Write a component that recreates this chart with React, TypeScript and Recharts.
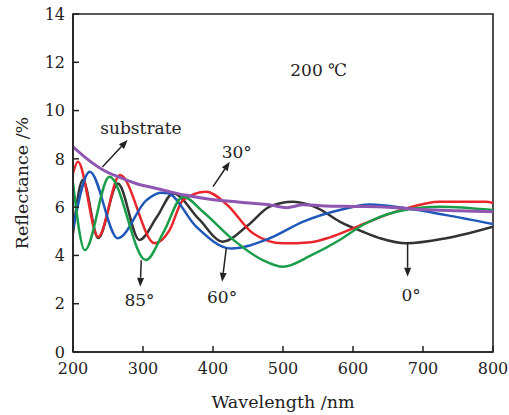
import React from "react";
import {
  LineChart,
  Line,
  XAxis,
  YAxis,
  ReferenceArea,
  ReferenceLine,
  ReferenceDot,
} from "recharts";

// wavelength (nm) / reflectance (%), one pair of arrays per curve
const substrateWl = [200, 220, 243, 265, 290, 315, 338, 360, 386, 420, 457, 480, 505, 529, 560, 600, 650, 700, 750, 800];
const substrateR = [8.5, 8.0, 7.54, 7.25, 6.98, 6.8, 6.64, 6.5, 6.37, 6.25, 6.16, 6.1, 5.98, 6.1, 6.05, 6.03, 6.0, 5.9, 5.85, 5.81];

const deg0Wl = [200, 214, 236, 264, 295, 320, 343, 380, 414, 450, 481, 514, 550, 581, 614, 640, 676, 733, 800];
const deg0R = [4.9, 7.12, 4.72, 6.98, 4.64, 5.6, 6.57, 5.5, 4.57, 5.25, 6.02, 6.22, 5.95, 5.4, 4.98, 4.7, 4.5, 4.71, 5.19];

const deg30Wl = [200, 207, 236, 267, 317, 338, 357, 390, 420, 457, 500, 540, 567, 600, 640, 676, 724, 790, 800];
const deg30R = [7.4, 7.88, 4.77, 7.33, 4.5, 5.05, 6.29, 6.64, 6.1, 4.92, 4.5, 4.55, 4.75, 5.12, 5.6, 5.95, 6.22, 6.22, 6.17];

const deg60Wl = [200, 224, 264, 305, 325, 336, 376, 426, 481, 529, 581, 624, 676, 733, 800];
const deg60R = [5.1, 7.47, 4.71, 6.29, 6.6, 6.57, 5.19, 4.29, 4.71, 5.4, 5.88, 6.11, 5.95, 5.67, 5.3];

const deg85Wl = [200, 217, 252, 304, 330, 357, 386, 424, 471, 500, 540, 581, 614, 662, 724, 800];
const deg85R = [7.0, 4.22, 7.26, 3.81, 5.0, 6.43, 5.8, 4.77, 3.81, 3.53, 4.0, 4.64, 5.26, 5.81, 6.02, 5.88];

const xTicks = [200, 300, 400, 500, 600, 700, 800];
const yTicks = [0, 2, 4, 6, 8, 10, 12, 14];

const toPoints = (wl: number[], r: number[]) => wl.map((w, i) => ({ wl: w, r: r[i] }));

const FONT = "DejaVu Serif";
const INK = "#222";

const series = [
  { name: "0°", data: toPoints(deg0Wl, deg0R), color: "#333333", width: 2.5 },
  { name: "30°", data: toPoints(deg30Wl, deg30R), color: "#e8262b", width: 2.5 },
  { name: "60°", data: toPoints(deg60Wl, deg60R), color: "#1f58b8", width: 2.5 },
  { name: "85°", data: toPoints(deg85Wl, deg85R), color: "#1a9e4a", width: 2.5 },
  { name: "substrate", data: toPoints(substrateWl, substrateR), color: "#8e56b0", width: 3 },
];

// arrows: [from, to] in data coords, head at "to"
const arrows = [
  { from: { x: 242, y: 7.66 }, to: { x: 278, y: 8.78 } },
  { from: { x: 400, y: 6.85 }, to: { x: 424, y: 7.88 } },
  { from: { x: 297.5, y: 3.8 }, to: { x: 296, y: 2.7 } },
  { from: { x: 419, y: 4.3 }, to: { x: 413, y: 2.91 } },
  { from: { x: 678, y: 4.5 }, to: { x: 678, y: 3.12 } },
];

const notes = [
  { x: 297, y: 9.28, text: "substrate" },
  { x: 434, y: 8.28, text: "30°" },
  { x: 295, y: 2.15, text: "85°" },
  { x: 413, y: 2.29, text: "60°" },
  { x: 683, y: 2.36, text: "0°" },
  { x: 551, y: 11.68, text: "200 ℃" },
];

const ArrowShape = (p: any) => {
  const { x1, y1, x2, y2 } = p;
  if ([x1, y1, x2, y2].some((v) => typeof v !== "number" || isNaN(v))) return null;
  const ang = Math.atan2(y2 - y1, x2 - x1);
  const L = 9;
  const W = 3.5;
  const bx = x2 - L * Math.cos(ang);
  const by = y2 - L * Math.sin(ang);
  const nx = -Math.sin(ang) * W;
  const ny = Math.cos(ang) * W;
  return (
    <g>
      <line x1={x1} y1={y1} x2={bx} y2={by} stroke={INK} strokeWidth={1.5} />
      <polygon points={`${x2},${y2} ${bx + nx},${by + ny} ${bx - nx},${by - ny}`} fill={INK} />
    </g>
  );
};

const noteShape = (text: string) => (p: any) => (
  <text x={p.cx} y={p.cy} textAnchor="middle" dy="0.35em" fontFamily={FONT} fontSize={17} fill={INK}>
    {text}
  </text>
);

const XTick = (p: any) => {
  const { x, y, payload } = p;
  return (
    <g>
      <line x1={x} y1={352} x2={x} y2={346} stroke={INK} strokeWidth={1.5} />
      <text x={x} y={y} dy="0.71em" textAnchor="middle" fontFamily={FONT} fontSize={16} fill={INK}>
        {payload.value}
      </text>
    </g>
  );
};

const YTick = (p: any) => {
  const { x, y, payload } = p;
  return (
    <g>
      <line x1={73} y1={y} x2={79} y2={y} stroke={INK} strokeWidth={1.5} />
      <text x={x} y={y} dy="0.36em" textAnchor="end" fontFamily={FONT} fontSize={16} fill={INK}>
        {payload.value}
      </text>
    </g>
  );
};

const XTitle = (p: any) => {
  const vb = p.viewBox || { x: 73, y: 352, width: 420, height: 63 };
  return (
    <text x={vb.x + vb.width / 2} y={402} dy="0.35em" textAnchor="middle" fontFamily={FONT} fontSize={17.5} fill={INK}>
      Wavelength /nm
    </text>
  );
};

const YTitle = () => (
  <text
    x={22}
    y={183}
    dy="0.35em"
    textAnchor="middle"
    transform="rotate(-90 22 183)"
    fontFamily={FONT}
    fontSize={17.5}
    fill={INK}
  >
    Reflectance /%
  </text>
);

export default function App() {
  return (
    <div style={{ position: "absolute", left: 0, top: 0, background: "#fff" }}>
      <LineChart width={509} height={415} margin={{ top: 14, right: 16, bottom: 0, left: 0 }}>
        <XAxis
          type="number"
          dataKey="wl"
          domain={[200, 800]}
          ticks={xTicks}
          height={63}
          tickSize={0}
          tickMargin={11}
          tick={<XTick />}
          axisLine={{ stroke: INK, strokeWidth: 1.6 }}
          allowDataOverflow
          label={<XTitle />}
        />
        <YAxis
          type="number"
          dataKey="r"
          domain={[0, 14]}
          ticks={yTicks}
          width={73}
          tickSize={0}
          tickMargin={8}
          tick={<YTick />}
          axisLine={{ stroke: INK, strokeWidth: 1.6 }}
          allowDataOverflow
          label={<YTitle />}
        />
        <ReferenceArea x1={200} x2={800} y1={0} y2={14} fill="none" stroke={INK} strokeWidth={1.6} ifOverflow="visible" />
        {series.map((s) => (
          <Line
            key={s.name}
            data={s.data}
            dataKey="r"
            type="monotone"
            stroke={s.color}
            strokeWidth={s.width}
            dot={false}
            isAnimationActive={false}
          />
        ))}
        {arrows.map((a, i) => (
          <ReferenceLine key={"a" + i} segment={[a.from, a.to]} shape={ArrowShape} ifOverflow="visible" />
        ))}
        {notes.map((n) => (
          <ReferenceDot key={n.text} x={n.x} y={n.y} r={0} shape={noteShape(n.text)} ifOverflow="visible" />
        ))}
      </LineChart>
    </div>
  );
}
